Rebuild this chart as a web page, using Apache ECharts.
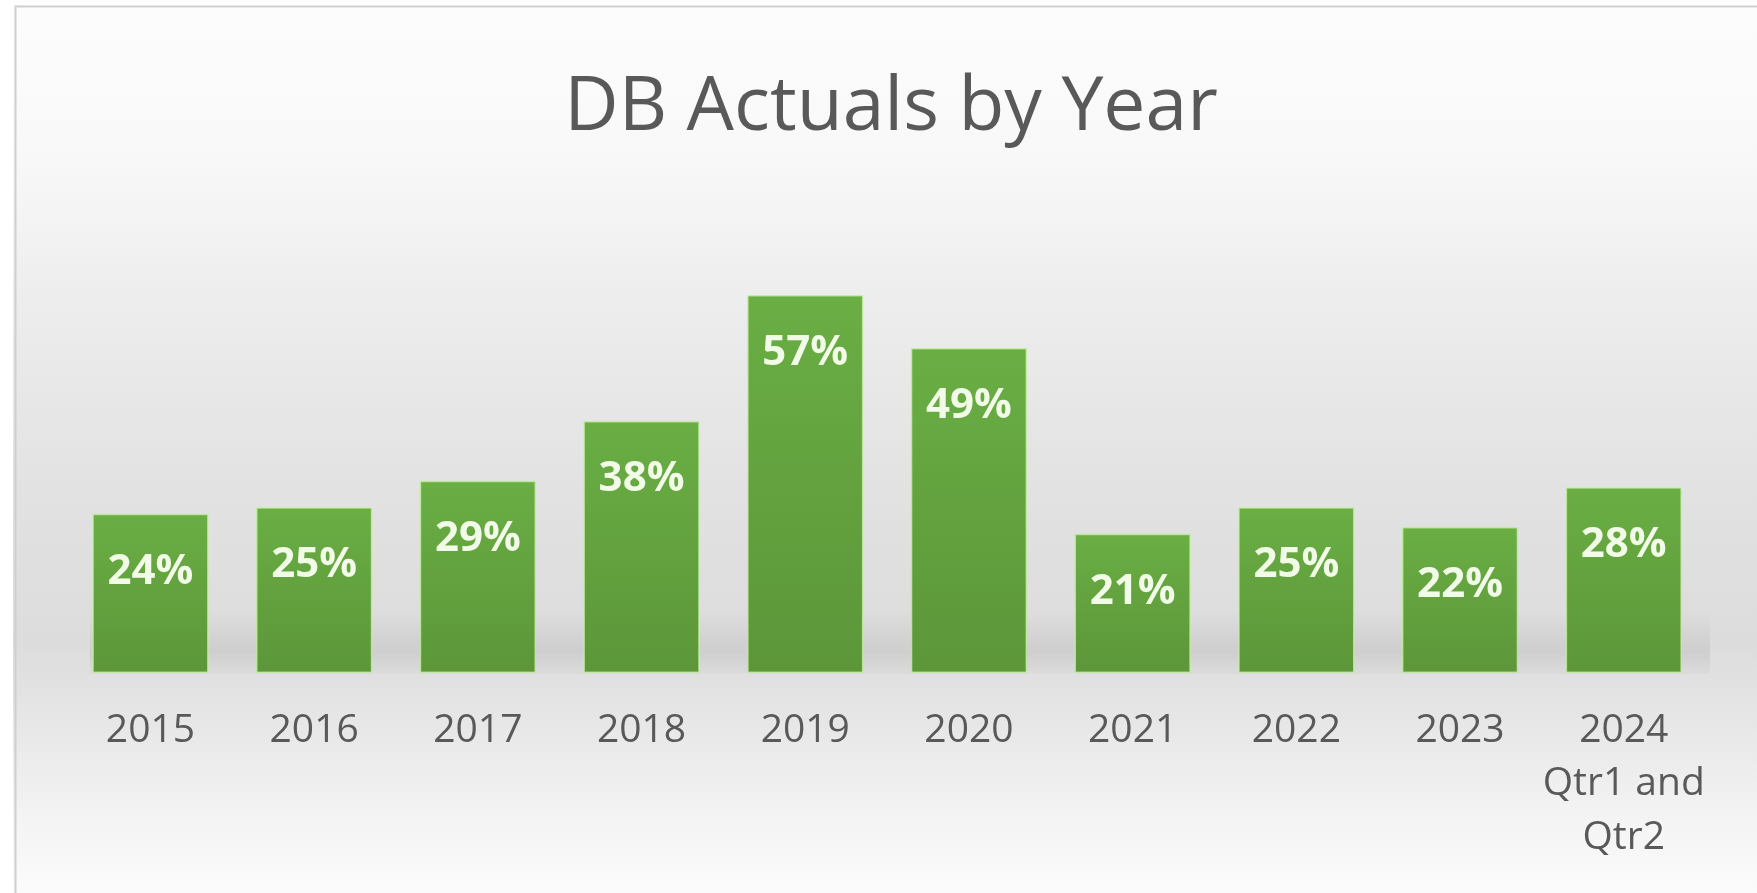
<!DOCTYPE html>
<html>
<head>
<meta charset="utf-8">
<script src="https://cdn.jsdelivr.net/npm/echarts@6/dist/echarts.min.js"></script>
<style>
  html, body { margin: 0; padding: 0; background: #ffffff; }
  #chart { width: 1757px; height: 893px; }
</style>
</head>
<body>
<div id="chart"></div>
<script>
  // data
  const categories = ['2015', '2016', '2017', '2018', '2019', '2020', '2021', '2022', '2023', '2024\nQtr1 and\nQtr2'];
  const actuals = [24, 25, 29, 38, 57, 49, 21, 25, 22, 28];

  const chart = echarts.init(document.getElementById('chart'));

  const textGray = '#595959';

  const options = {
    backgroundColor: {
      type: 'linear', x: 0, y: 0, x2: 0, y2: 1,
      colorStops: [
        { offset: 0, color: '#fdfdfd' },
        { offset: 0.18, color: '#f8f8f8' },
        { offset: 0.35, color: '#ececec' },
        { offset: 0.55, color: '#e2e2e2' },
        { offset: 0.72, color: '#dcdcdc' },
        { offset: 0.82, color: '#e8e8e8' },
        { offset: 0.92, color: '#f4f4f4' },
        { offset: 1, color: '#fbfbfb' }
      ]
    },
    title: {
      text: 'DB Actuals by Year',
      left: 886,
      textAlign: 'center',
      top: 66,
      textStyle: {
        fontFamily: 'Open Sans',
        fontWeight: 'normal',
        fontSize: 75,
        color: textGray
      }
    },
    graphic: [
      {
        type: 'rect',
        left: 0, top: 0,
        shape: { width: 13, height: 893 },
        style: { fill: '#ffffff' },
        z: 0
      },
      {
        type: 'rect',
        left: 13, top: 4,
        shape: { width: 1760, height: 900 },
        style: { fill: 'none', stroke: '#cfcfcf', lineWidth: 2 },
        z: 10
      },
      {
        // soft floor shadow behind the bars
        type: 'rect',
        left: 90, top: 612,
        shape: { width: 1620, height: 62 },
        style: {
          fill: {
            type: 'linear', x: 0, y: 0, x2: 0, y2: 1,
            colorStops: [
              { offset: 0, color: 'rgba(0,0,0,0)' },
              { offset: 0.65, color: 'rgba(0,0,0,0.065)' },
              { offset: 1, color: 'rgba(0,0,0,0.02)' }
            ]
          }
        },
        z: 0
      }
    ],
    grid: {
      left: 68.6,
      right: 51.4,
      top: 275,
      bottom: 220
    },
    xAxis: {
      type: 'category',
      data: categories,
      axisLine: { show: false },
      axisTick: { show: false },
      axisLabel: {
        color: textGray,
        fontFamily: 'Open Sans',
        fontSize: 39,
        lineHeight: 53.5,
        margin: 31,
        interval: 0
      }
    },
    yAxis: {
      type: 'value',
      min: 0,
      max: 60,
      show: false,
      splitLine: { show: false }
    },
    series: [
      {
        type: 'bar',
        data: actuals,
        barCategoryGap: '29%',
        itemStyle: {
          color: {
            type: 'linear', x: 0, y: 0, x2: 0, y2: 1,
            colorStops: [
              { offset: 0, color: '#6aae44' },
              { offset: 1, color: '#5c9639' }
            ]
          },
          borderColor: 'rgba(196,240,160,0.75)',
          borderWidth: 1.5
        },
        label: {
          show: true,
          position: 'insideTop',
          distance: 37,
          formatter: '{c}%',
          color: '#f2fbe8',
          fontFamily: 'Open Sans',
          fontWeight: 'bold',
          fontSize: 42
        }
      }
    ]
  };

  chart.setOption(options);
</script>
</body>
</html>
